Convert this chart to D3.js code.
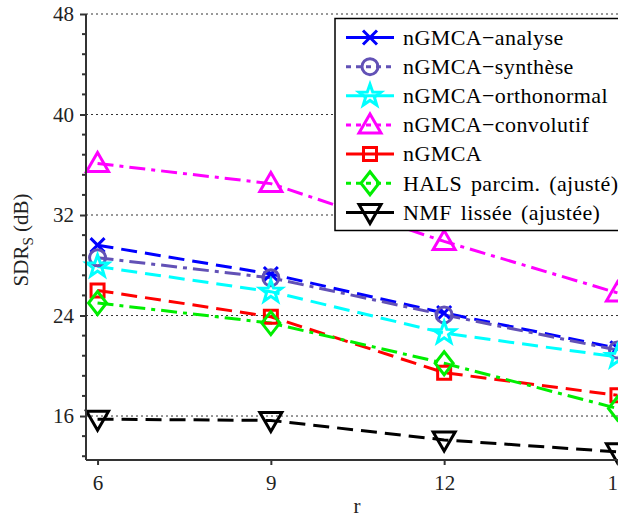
<!DOCTYPE html>
<html>
<head>
<meta charset="utf-8">
<script src="https://cdn.jsdelivr.net/npm/d3@7"></script>
<style>
  html, body { margin: 0; padding: 0; background: #fff; }
  svg { display: block; }
  text { font-family: "Liberation Serif", "Times New Roman", serif; }
</style>
</head>
<body>
<svg id="chart" width="618" height="521"></svg>
<script>
// ---- data ----
const rValues = [6, 9, 12, 15];
const yTicks = [16, 24, 32, 40, 48];
const seriesNames = ["nGMCA\u2212analyse", "nGMCA\u2212synthèse", "nGMCA\u2212orthonormal", "nGMCA\u2212convolutif", "nGMCA", "HALS parcim. (ajusté)", "NMF lissée (ajustée)"];
const analyse     = [29.6, 27.3, 24.2, 21.4];
const synthese    = [28.6, 27.0, 24.05, 21.25];
const orthonormal = [27.9, 25.9, 22.6, 20.7];
const convolutif  = [36.1, 34.5, 29.9, 25.8];
const ngmca       = [26.0, 23.9, 19.45, 17.65];
const hals        = [25.0, 23.4, 20.2, 16.6];
const nmf         = [15.75, 15.65, 14.1, 13.15];
const seriesValues = [analyse, synthese, orthonormal, convolutif, ngmca, hals, nmf];

// ---- styles ----
const colors  = ["#0000ff", "#6251b6", "#00ffff", "#ff00ff", "#ff0000", "#00ee00", "#000000"];
const dashes  = ["16,8", "16,6,4,6", "16,8", "16,6,4,6", "16,8", "16,6,4,6", "16,8"];
const legendDashes = [null, "5,5", null, "5,5", null, "5,5", null];
const markers = ["x", "circle", "star", "triUp", "square", "diamond", "triDown"];

const svg = d3.select("#chart");
const x = d3.scaleLinear().domain([5.8, 15.2]).range([86, 629]);
const y = d3.scaleLinear().domain([12.5, 48]).range([460, 14]);

function markerPath(type) {
  const p = d3.path();
  if (type === "x") {
    const s = 7;
    p.moveTo(-s, -s); p.lineTo(s, s); p.moveTo(-s, s); p.lineTo(s, -s);
  } else if (type === "circle") {
    p.arc(0, 0, 8, 0, 2 * Math.PI); p.closePath();
  } else if (type === "star") {
    const ro = 11.5, ri = 4.6;
    for (let i = 0; i < 10; i++) {
      const r = i % 2 ? ri : ro;
      const a = -Math.PI / 2 + i * Math.PI / 5;
      if (i === 0) p.moveTo(r * Math.cos(a), r * Math.sin(a)); else p.lineTo(r * Math.cos(a), r * Math.sin(a));
    }
    p.closePath();
  } else if (type === "triUp") {
    p.moveTo(0, -11); p.lineTo(11, 8); p.lineTo(-11, 8); p.closePath();
  } else if (type === "triDown") {
    p.moveTo(0, 11); p.lineTo(11, -8); p.lineTo(-11, -8); p.closePath();
  } else if (type === "square") {
    p.rect(-6.5, -6.5, 13, 13);
  } else if (type === "diamond") {
    p.moveTo(0, -11.5); p.lineTo(9, 0); p.lineTo(0, 11.5); p.lineTo(-9, 0); p.closePath();
  }
  return p.toString();
}

// ---- grid ----
svg.append("g").selectAll("line").data(yTicks).join("line")
  .attr("x1", 86).attr("x2", 618)
  .attr("y1", d => y(d)).attr("y2", d => y(d))
  .attr("stroke", "#333").attr("stroke-width", 1).attr("stroke-dasharray", "2,3");

// ---- series ----
const line = d3.line().x((d, i) => x(rValues[i])).y(d => y(d));
const plot = svg.append("g");
seriesValues.forEach((vals, k) => {
  plot.append("path").datum(vals)
    .attr("d", line)
    .attr("fill", "none")
    .attr("stroke", colors[k]).attr("stroke-width", 3)
    .attr("stroke-dasharray", dashes[k]);
});
seriesValues.forEach((vals, k) => {
  plot.append("g").selectAll("path").data(vals).join("path")
    .attr("transform", (d, i) => `translate(${x(rValues[i])},${y(d)})`)
    .attr("d", markerPath(markers[k]))
    .attr("fill", "none").attr("stroke", colors[k]).attr("stroke-width", 3)
    .attr("stroke-linejoin", "miter");
});

// ---- axes ----
const yAxis = d3.axisLeft(y).tickValues(yTicks).tickSize(6).tickPadding(6);
const gy = svg.append("g").attr("transform", "translate(86,0)").call(yAxis);
gy.select(".domain").attr("stroke", "#333").attr("stroke-width", 2).attr("d", "M0,14V460");
gy.selectAll(".tick line").attr("stroke", "#333").attr("stroke-width", 2);
gy.selectAll(".tick text").attr("font-size", 21).attr("fill", "#222")
  .attr("font-family", "Liberation Serif, serif");

const minorTicks = d3.range(8, 31).map(k => k * 1.6).filter(v => !yTicks.some(t => Math.abs(t - v) < 1e-6));
svg.append("g").selectAll("line").data(minorTicks).join("line")
  .attr("x1", 82).attr("x2", 86)
  .attr("y1", d => y(d)).attr("y2", d => y(d))
  .attr("stroke", "#333").attr("stroke-width", 2);

const xAxis = d3.axisBottom(x).tickValues(rValues).tickFormat(d3.format("d")).tickSize(5).tickPadding(10);
const gx = svg.append("g").attr("transform", "translate(0,460)").call(xAxis);
gx.select(".domain").attr("stroke", "#333").attr("stroke-width", 2).attr("d", "M86,0H629");
gx.selectAll(".tick line").attr("stroke", "#333").attr("stroke-width", 2);
gx.selectAll(".tick text").attr("font-size", 21).attr("fill", "#222")
  .attr("font-family", "Liberation Serif, serif");

// ---- axis labels ----
svg.append("text").attr("x", 357).attr("y", 513).attr("text-anchor", "middle")
  .attr("font-size", 21).attr("fill", "#222").text("r");
const yl = svg.append("text").attr("transform", "translate(28,240) rotate(-90)")
  .attr("text-anchor", "middle").attr("font-size", 21).attr("fill", "#222");
yl.append("tspan").text("SDR");
yl.append("tspan").attr("font-size", 15).attr("dy", 5).text("S");
yl.append("tspan").attr("dy", -5).text(" (dB)");

// ---- legend ----
const lg = svg.append("g");
lg.append("rect").attr("x", 335).attr("y", 18.5).attr("width", 300).attr("height", 212)
  .attr("fill", "#fff").attr("stroke", "#000").attr("stroke-width", 1.5);
seriesNames.forEach((name, k) => {
  const cy = 37.5 + k * 29.15;
  lg.append("line").attr("x1", 346).attr("x2", 394).attr("y1", cy).attr("y2", cy)
    .attr("stroke", colors[k]).attr("stroke-width", 3)
    .attr("stroke-dasharray", legendDashes[k]);
  lg.append("path").attr("transform", `translate(370,${cy})`).attr("d", markerPath(markers[k]))
    .attr("fill", "none").attr("stroke", colors[k]).attr("stroke-width", 3);
  lg.append("text").attr("x", 403).attr("y", cy).attr("dy", "0.33em")
    .attr("font-size", 22).attr("letter-spacing", 0.4).attr("word-spacing", 3)
    .attr("fill", "#000").text(name);
});
</script>
</body>
</html>
